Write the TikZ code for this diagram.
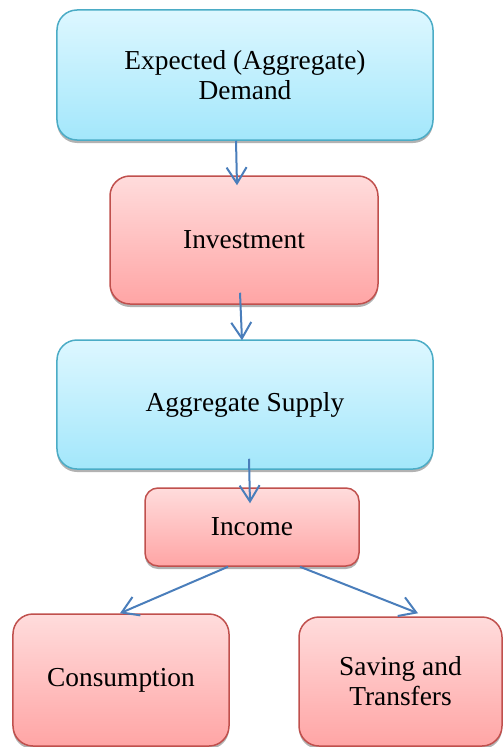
\documentclass[tikz,border=0pt]{standalone}
\usepackage{fontspec}
\setmainfont{Liberation Serif}
\usetikzlibrary{arrows.meta,shadows}
\definecolor{bluetop}{HTML}{DDF7FF}
\definecolor{bluebot}{HTML}{A3E7FB}
\definecolor{blueedge}{HTML}{4BACC6}
\definecolor{redtop}{HTML}{FFDCDC}
\definecolor{redbot}{HTML}{FFA5A5}
\definecolor{rededge}{HTML}{C0504D}
\definecolor{arrowcol}{HTML}{4A7EBB}
\tikzset{
  basebox/.style={rectangle, rounded corners=20bp, line width=1.5bp, align=center,
    font=\fontsize{27.5}{30}\selectfont, inner sep=0pt,
    drop shadow={shadow xshift=0bp, shadow yshift=-3bp, opacity=0.3, fill=black}},
  bluebox/.style={basebox, draw=blueedge, top color=bluetop, bottom color=bluebot},
  redbox/.style={basebox, draw=rededge, top color=redtop, bottom color=redbot},
  conn/.style={draw=arrowcol, line width=2bp, -{Straight Barb[length=16bp,width=20bp,line width=2bp]}}
}
\begin{document}
\begin{tikzpicture}[x=1bp,y=-1bp]
\useasboundingbox (0,0) rectangle (504,747);
\node[bluebox, minimum width=376bp, minimum height=130bp] (b1) at (245,75) {Expected (Aggregate)\\Demand};
\node[redbox, minimum width=268bp, minimum height=128bp] (b2) at (244,240) {Investment};
\node[bluebox, minimum width=376bp, minimum height=129bp] (b3) at (245,404.5) {Aggregate Supply};
\node[redbox, rounded corners=13bp, minimum width=214bp, minimum height=78bp] (b4) at (252,527) {Income};
\node[redbox, minimum width=216bp, minimum height=132bp] (b5) at (121,680) {Consumption};
\node[redbox, minimum width=203bp, minimum height=129bp] (b6) at (400.5,681.5) {Saving and\\Transfers};
\draw[conn] ([xshift=-9bp]b1.south) -- ([xshift=-7bp,yshift=-10bp]b2.north);
\draw[conn] ([xshift=-4bp,yshift=12bp]b2.south) -- ([xshift=-3bp,yshift=-1bp]b3.north);
\draw[conn] ([xshift=4bp,yshift=11bp]b3.south) -- ([xshift=-2bp,yshift=-16bp]b4.north);
\draw[conn] ([xshift=-24bp]b4.south) -- ([xshift=-1bp]b5.north);
\draw[conn] ([xshift=48bp]b4.south) -- ([xshift=17.5bp,yshift=3bp]b6.north);
\end{tikzpicture}
\end{document}
